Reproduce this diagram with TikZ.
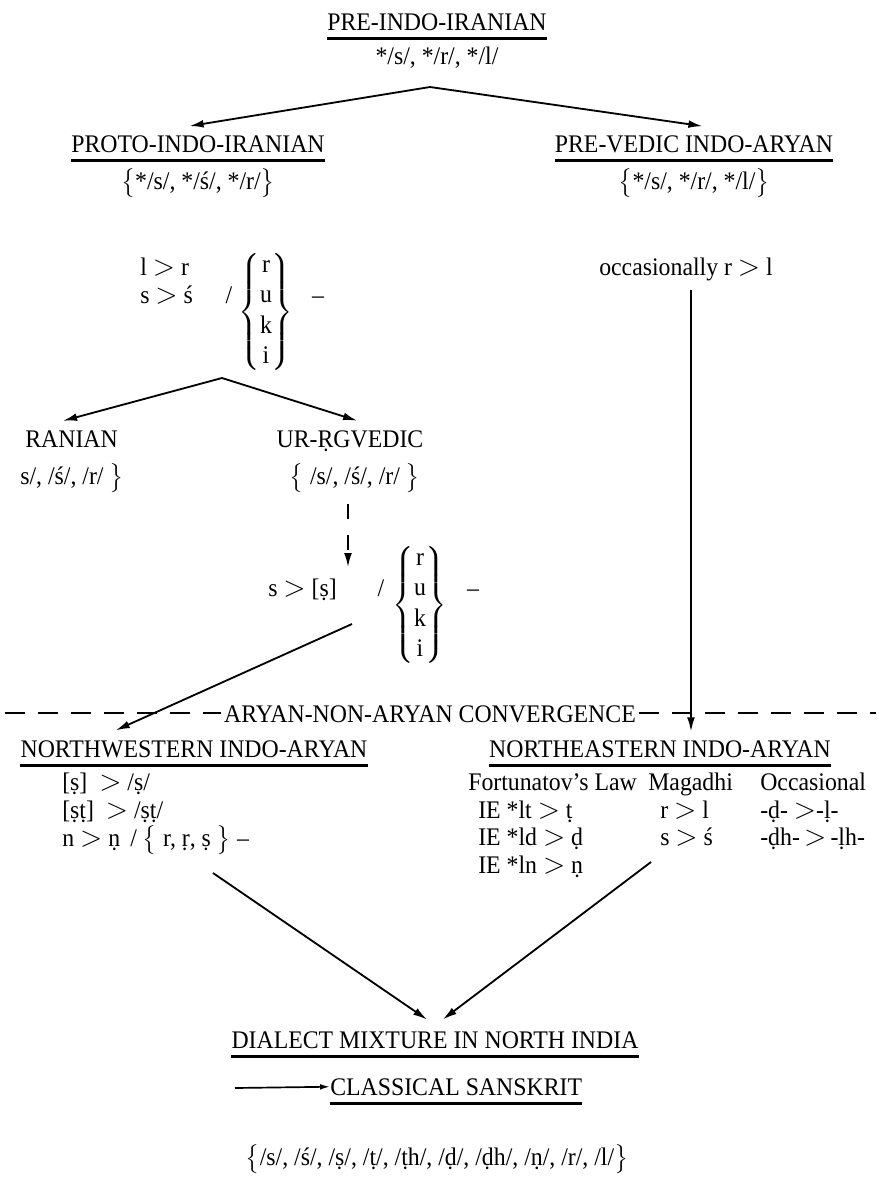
\documentclass[tikz,border=0pt]{standalone}
\usepackage{amsmath}
\usepackage{fontspec}
\setmainfont{Liberation Serif}[FakeStretch=0.94]
\usepackage{tikz}
\usetikzlibrary{arrows.meta}
\tikzset{
  every picture/.style = {
    font=\fontsize{18}{21.5}\selectfont
  },
  lbl/.style={
    inner sep=0pt,
    anchor=base
  },
  lblw/.style={
    inner sep=0pt,
    anchor=base west
  },
  uline/.style={
    line width=1.6pt
  },
  arr/.style={
    -{Latex[length=10pt,width=5.5pt]},
    line width=1.3pt,
    shorten >=2pt
  },
  conv/.style={
    line width=1.5pt,
    dash pattern=on 14pt off 9.5pt
  }
}
\newcommand{\ctx}{$\left\{\begin{tabular}{@{}c@{}}r\\u\\k\\i\end{tabular}\right\}$}
\newcommand{\bgt}{\raisebox{-0.5pt}{\fontsize{22}{22}\selectfont$>$}}

\begin{document}
\begin{tikzpicture}[x=0.025cm,y=-0.025cm]
        \useasboundingbox (0,0) rectangle (879,1186);
        % top
        \node[lbl] (pre) at (437,30) {PRE-INDO-IRANIAN};
        \draw[uline] ([yshift=-6pt]pre.base west) -- ([yshift=-6pt]pre.base east);
        \node[lbl] (preset) at (437,64) {*/s/, */r/, */l/};
        \coordinate (split1) at (430,87);
        \node[lbl] (proto) at (198,152) {PROTO-INDO-IRANIAN};
        \draw[uline] ([yshift=-6pt]proto.base west) -- ([yshift=-6pt]proto.base east);
        \node[lbl] (protoset) at (198,189) {$\bigl\{$*/s/, */ś/, */r/$\bigr\}$};
        \node[lbl] (pv) at (694,152) {PRE-VEDIC INDO-ARYAN};
        \draw[uline] ([yshift=-6pt]pv.base west) -- ([yshift=-6pt]pv.base east);
        \node[lbl] (pvset) at (694,189) {$\bigl\{$*/s/, */r/, */l/$\bigr\}$};
        \draw[arr] (split1) -- ([xshift=-8pt,yshift=6pt]proto.north);
        \draw[arr] (split1) -- ([xshift=8pt,yshift=6pt]pv.north);
        % ruki, first step
        \node[lblw] (ruleA) at (140,275) {l \bgt{} r};
        \node[lblw] (ruleB) at (140,303) {s \bgt{} ś};
        \node[lbl] (slA) at (229,303) {/};
        \node[inner sep=0pt] (ctxA) at (266,312) {\ctx};
        \node[lbl] (dashA) at (318,303) {–};
        \node[lbl] (occ) at (686,275) {occasionally r \bgt{} l};
        \coordinate (vtop) at (691,290);
        \coordinate (split2) at (222,378);
        \node[lblw] (iran) at (25,447) {RANIAN};
        \node[lblw] (iranset) at (20,484) {s/, /ś/, /r/ $\bigr\}$};
        \node[lbl] (urrv) at (350,447) {UR-ṚGVEDIC};
        \node[lbl] (urset) at (355,484) {$\bigl\{$ /s/, /ś/, /r/ $\bigr\}$};
        \draw[arr] (split2) -- ([xshift=-8pt,yshift=6pt]iran.north);
        \draw[arr] (split2) -- ([xshift=7pt,yshift=6pt]urrv.north);
        % ruki, second step
        \coordinate (ura) at (348,504);
        \coordinate (urb) at (348,570);
        \draw[arr, dash pattern=on 11pt off 11pt] (ura) -- (urb);
        \node[lblw] (ruleC) at (268,596) {s \bgt{} [ṣ]};
        \node[lbl] (slC) at (381,596) {/};
        \node[inner sep=0pt] (ctxC) at (420,605) {\ctx};
        \node[lbl] (dashC) at (473,596) {–};
        \coordinate (nwstart) at (352,624);
        % convergence
        \node[lbl, inner xsep=2pt] (conv) at (430,722) {ARYAN-NON-ARYAN CONVERGENCE};
        \coordinate (dl) at (5,713);
        \coordinate (dr) at (876,713);
        \draw[conv] (dl) -- (conv.west |- dl);
        \draw[conv] (conv.east |- dr) -- (dr);
        \node[lbl] (nw) at (194,757) {NORTHWESTERN INDO-ARYAN};
        \draw[uline] ([yshift=-6pt]nw.base west) -- ([yshift=-6pt]nw.base east);
        \node[lbl] (ne) at (660,757) {NORTHEASTERN INDO-ARYAN};
        \draw[uline] ([yshift=-6pt]ne.base west) -- ([yshift=-6pt]ne.base east);
        \draw[arr] (nwstart) -- ([xshift=66pt,yshift=6pt]nw.north west);
        \draw[arr] (vtop) -- ([yshift=4pt]vtop |- ne.north);
        % northwest
        \node[lblw] (nwA) at (62,790) {[ṣ] \ \bgt{} /ṣ/};
        \node[lblw] (nwB) at (62,818) {[ṣṭ] \ \bgt{} /ṣṭ/};
        \node[lblw] (nwC) at (62,846) {n \bgt{} ṇ \,/ $\bigl\{$ r, ṛ, ṣ $\bigr\}$ –};
        % northeast
        \node[lblw] (fort) at (468,790) {Fortunatov’s Law};
        \node[lblw] (mag) at (648,790) {Magadhi};
        \node[lblw] (occl) at (760,790) {Occasional};
        \node[lblw] (fA) at (478,818) {IE *lt \bgt{} ṭ};
        \node[lblw] (fB) at (478,845) {IE *ld \bgt{} ḍ};
        \node[lblw] (fC) at (478,873) {IE *ln \bgt{} ṇ};
        \node[lblw] (mA) at (660,818) {r \bgt{} l};
        \node[lblw] (mB) at (660,845) {s \bgt{} ś};
        \node[lblw] (oA) at (760,818) {-ḍ- \bgt-ḷ-};
        \node[lblw] (oB) at (760,845) {-ḍh-\,\bgt\,-ḷh-};
        % mixture
        \coordinate (nwend) at (213,873);
        \coordinate (neend) at (651,862);
        \node[lbl] (dial) at (435,1048) {DIALECT MIXTURE IN NORTH INDIA};
        \draw[uline] ([yshift=-6pt]dial.base west) -- ([yshift=-6pt]dial.base east);
        \draw[arr] (nwend) -- ([xshift=-4pt,yshift=7pt]dial.north);
        \draw[arr] (neend) -- ([xshift=4pt,yshift=7pt]dial.north);
        \node[lblw] (cs) at (330,1095) {CLASSICAL SANSKRIT};
        \draw[uline] ([yshift=-6pt]cs.base west) -- ([yshift=-6pt]cs.base east);
        \coordinate (csin) at (235,1088);
        \draw[-{Latex[length=7pt,width=4pt]}, line width=1.2pt] (csin) -- (cs.west);
        \node[lbl] (sk) at (437,1165) {$\bigl\{$/s/, /ś/, /ṣ/, /ṭ/, /ṭh/, /ḍ/, /ḍh/, /ṇ/, /r/, /l/$\bigr\}$};
    \end{tikzpicture}
\end{document}
